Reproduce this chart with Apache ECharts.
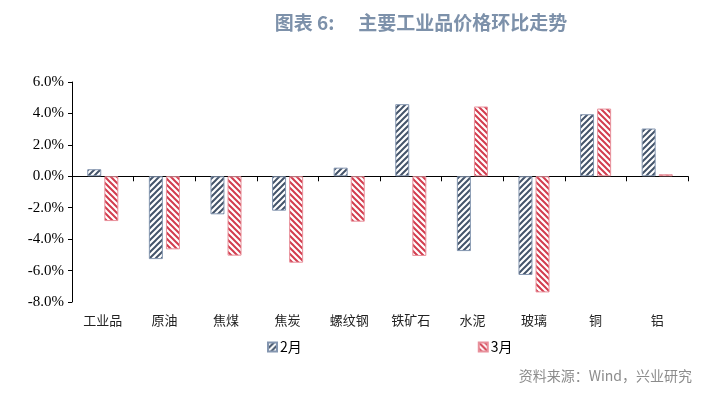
<!DOCTYPE html>
<html>
<head>
<meta charset="utf-8">
<script src="https://cdn.jsdelivr.net/npm/echarts@6/dist/echarts.min.js"></script>
<style>
  html, body { margin: 0; padding: 0; background: #fff; }
  #chart { width: 718px; height: 399px; }
</style>
</head>
<body>
<div id="chart"></div>
<script>
// 数据
const categories = ["工业品", "原油", "焦煤", "焦炭", "螺纹钢", "铁矿石", "水泥", "玻璃", "铜", "铝"];
const febValues = [0.45, -5.27, -2.42, -2.19, 0.55, 4.59, -4.76, -6.28, 3.95, 3.04];
const marValues = [-2.85, -4.65, -5.05, -5.5, -2.89, -5.07, 4.44, -7.39, 4.31, 0.13];
const seriesNames = ["2月", "3月"];

// 斜线填充
function stripe(color, dir) {
  const n = 6;
  const c = document.createElement("canvas");
  c.width = n; c.height = n;
  const ctx = c.getContext("2d");
  ctx.fillStyle = "#fff";
  ctx.fillRect(0, 0, n, n);
  ctx.strokeStyle = color;
  ctx.lineWidth = 2;
  ctx.beginPath();
  if (dir === "/") {
    ctx.moveTo(-1, n + 1); ctx.lineTo(n + 1, -1);
    ctx.moveTo(-1, 1); ctx.lineTo(1, -1);
    ctx.moveTo(n - 1, n + 1); ctx.lineTo(n + 1, n - 1);
  } else {
    ctx.moveTo(-1, -1); ctx.lineTo(n + 1, n + 1);
    ctx.moveTo(n - 1, -1); ctx.lineTo(n + 1, 1);
    ctx.moveTo(-1, n - 1); ctx.lineTo(1, n + 1);
  }
  ctx.stroke();
  return { image: c, repeat: "repeat" };
}

const chart = echarts.init(document.getElementById("chart"));
const titleFont = { fontFamily: "Noto Sans CJK SC", fontSize: 19, fontWeight: "bold", color: "#7d91aa" };
const option = {
  backgroundColor: "#fff",
  animation: false,
  title: {
    text: "{a|图表 6:}{b|主要工业品价格环比走势}",
    left: 416,
    textAlign: "center",
    top: 8,
    textStyle: {
      rich: {
        a: Object.assign({ padding: [0, 24, 0, 0] }, titleFont),
        b: titleFont
      }
    }
  },
  graphic: [{
    type: "text",
    right: 26,
    top: 369,
    style: {
      text: "资料来源：Wind，兴业研究",
      fontFamily: "Noto Sans CJK SC",
      fontSize: 14,
      fill: "#8c8c8c"
    }
  }],
  legend: {
    left: 262,
    top: 335,
    itemWidth: 9,
    itemHeight: 9,
    itemGap: 176,
    icon: "rect",
    textStyle: { fontFamily: "Noto Sans CJK SC", fontSize: 14, color: "#000", padding: [0, 0, 0, -2] },
    data: seriesNames
  },
  grid: { left: 72, right: 30, top: 82, bottom: 97 },
  xAxis: [
    {
      type: "category",
      data: categories,
      axisLine: { onZero: true, lineStyle: { color: "#000", width: 1 } },
      axisTick: { show: true, length: 5, lineStyle: { color: "#000" } },
      axisLabel: { show: false }
    },
    {
      type: "category",
      data: categories,
      position: "bottom",
      axisLine: { show: false, onZero: false },
      axisTick: { show: false },
      axisLabel: {
        margin: 12,
        fontFamily: "Noto Sans CJK SC",
        fontSize: 13,
        color: "#222"
      }
    }
  ],
  yAxis: {
    type: "value",
    min: -8,
    max: 6,
    interval: 2,
    axisLine: { show: true, lineStyle: { color: "#000" } },
    axisTick: { show: true, length: 4, lineStyle: { color: "#000" } },
    splitLine: { show: false },
    axisLabel: {
      margin: 8,
      fontFamily: "Liberation Serif",
      fontSize: 15,
      color: "#000",
      formatter: v => v.toFixed(1) + "%"
    }
  },
  series: [
    {
      name: seriesNames[0],
      type: "bar",
      data: febValues,
      barWidth: 14,
      barGap: "22%",
      itemStyle: {
        color: stripe("#44546a", "/"),
        borderColor: "#8496b0",
        borderWidth: 1
      }
    },
    {
      name: seriesNames[1],
      type: "bar",
      data: marValues,
      barWidth: 14,
      barGap: "22%",
      itemStyle: {
        color: stripe("#d23c4e", "\\"),
        borderColor: "#e8909b",
        borderWidth: 1
      }
    }
  ]
};
chart.setOption(option);
</script>
</body>
</html>
